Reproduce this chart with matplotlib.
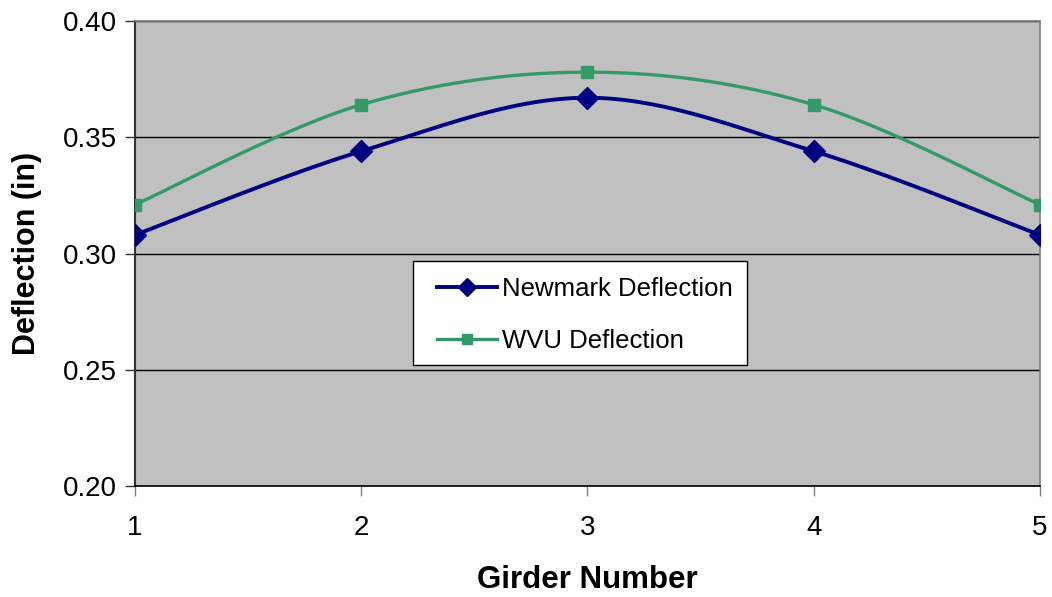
import numpy as np
import matplotlib.pyplot as plt
from matplotlib.patches import Rectangle

plt.rcParams['font.family'] = ['Liberation Sans', 'DejaVu Sans']

girders = [1, 2, 3, 4, 5]
newmark = [0.308, 0.344, 0.367, 0.344, 0.308]
wvu = [0.321, 0.364, 0.378, 0.364, 0.321]


def smooth(x, y, n=30):
    # Catmull-Rom style curve through the points (like a spreadsheet "smoothed line")
    x = np.asarray(x, float)
    y = np.asarray(y, float)
    px = np.concatenate([[x[0]], x, [x[-1]]])
    py = np.concatenate([[y[0]], y, [y[-1]]])
    xs, ys = [], []
    t = np.linspace(0, 1, n)
    for i in range(1, len(px) - 2):
        p0, p1, p2, p3 = [np.array([px[j], py[j]]) for j in (i - 1, i, i + 1, i + 2)]
        c1 = p1 + (p2 - p0) / 6
        c2 = p2 - (p3 - p1) / 6
        pts = ((1 - t) ** 3)[:, None] * p1 + (3 * (1 - t) ** 2 * t)[:, None] * c1 \
            + (3 * (1 - t) * t ** 2)[:, None] * c2 + (t ** 3)[:, None] * p2
        xs.extend(pts[:, 0])
        ys.extend(pts[:, 1])
    return xs, ys


fig = plt.figure(figsize=(10.52, 5.97), dpi=100)
ax = fig.add_axes([0.1283, 0.1859, 0.8603, 0.7789])
ax.set_facecolor('#C0C0C0')

navy = '#000080'
green = '#339966'

sx, sy = smooth(girders, newmark)
ax.plot(sx, sy, color=navy, lw=2.8, solid_capstyle='butt', zorder=3)
ax.plot(girders, newmark, 'D', color=navy, ms=11, zorder=4)
sx, sy = smooth(girders, wvu)
ax.plot(sx, sy, color=green, lw=2.4, solid_capstyle='butt', zorder=3)
ax.plot(girders, wvu, 's', color=green, ms=8.5, zorder=4)

# legend box drawn as a fixed white rectangle, entries placed inside it
ax.add_patch(Rectangle((0.307, 0.26), 0.369, 0.224, transform=ax.transAxes,
                       facecolor='white', edgecolor='black', lw=1.0, zorder=5))
ax.plot([], [], '-D', color=navy, lw=2.8, ms=9, label='Newmark Deflection')
ax.plot([], [], '-s', color=green, lw=2.4, ms=7, label='WVU Deflection')
leg = ax.legend(loc='upper left', bbox_to_anchor=(0.334, 0.45),
                fontsize=18.5, frameon=False,
                handlelength=2.33, handletextpad=0.2, borderpad=0,
                labelspacing=1.1, borderaxespad=0)
leg.set_zorder(6)

ax.set_xlim(1, 5)
ax.set_ylim(0.20, 0.40)
ax.set_xticks(girders)
ax.set_yticks([0.20, 0.25, 0.30, 0.35, 0.40])
ax.set_yticklabels(['0.20', '0.25', '0.30', '0.35', '0.40'])
ax.yaxis.grid(True, color='black', lw=1.0)
ax.set_axisbelow(True)

ax.tick_params(axis='both', labelsize=20, direction='out', length=7, width=1.0,
               color='#333333', pad=6)
ax.tick_params(axis='x', pad=14, color='#808080')

for side in ('top', 'right'):
    ax.spines[side].set_color('#808080')
    ax.spines[side].set_linewidth(1.2)
ax.spines['left'].set_color('#333333')
ax.spines['left'].set_linewidth(1.5)
ax.spines['bottom'].set_color('black')
ax.spines['bottom'].set_linewidth(1.2)

ax.set_xlabel('Girder Number', fontsize=22.5, fontweight='bold', labelpad=17)
ax.set_ylabel('Deflection (in)', fontsize=22, fontweight='bold', labelpad=15)

fig.savefig('out.png', dpi=100)
